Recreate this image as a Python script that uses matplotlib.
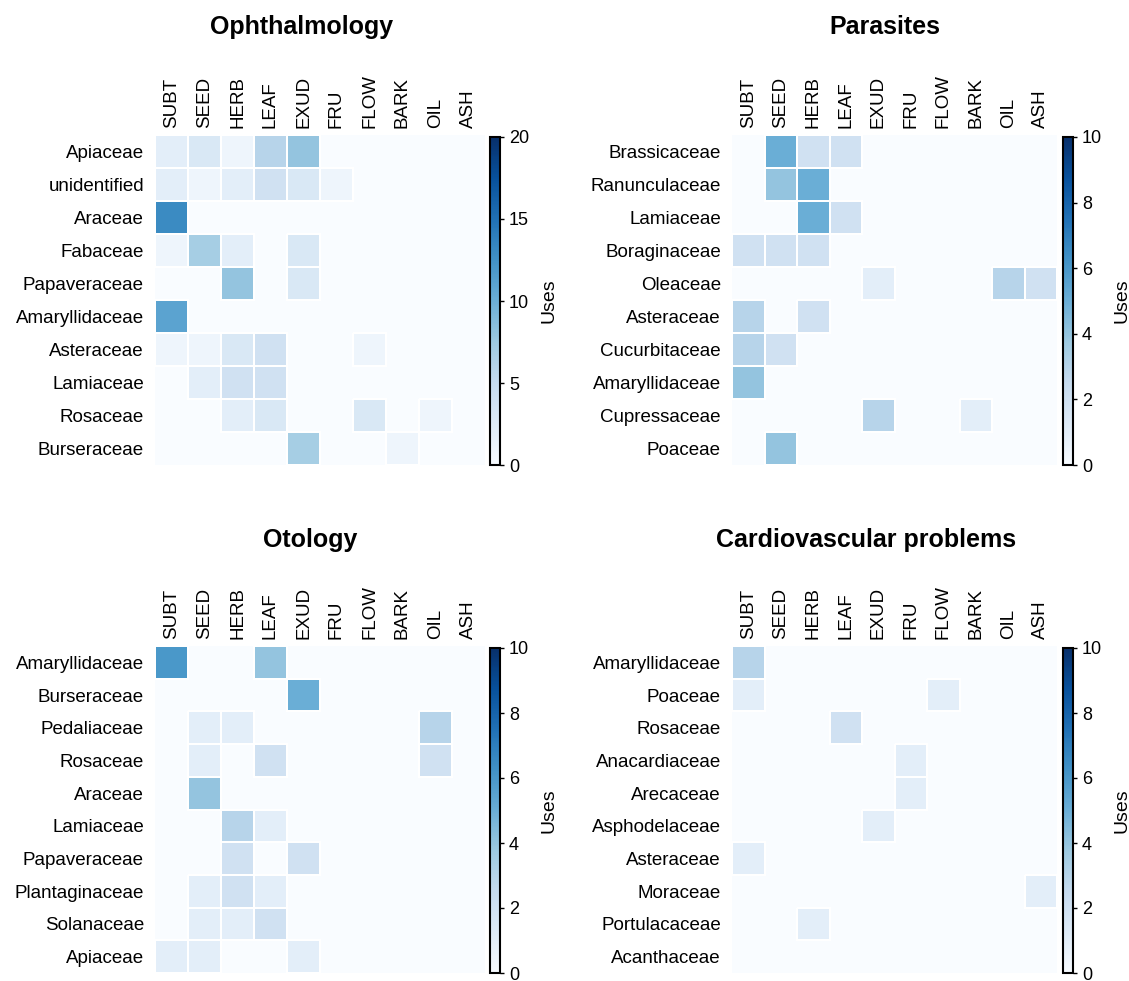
import numpy as np
import matplotlib
matplotlib.use("Agg")
import matplotlib.pyplot as plt

plt.rcParams['font.family'] = ['Liberation Sans', 'DejaVu Sans']

# plant parts used, same order for every panel
parts = ["SUBT", "SEED", "HERB", "LEAF", "EXUD", "FRU", "FLOW", "BARK", "OIL", "ASH"]

# Ophthalmology: uses per family and plant part
oph_families = ["Apiaceae", "unidentified", "Araceae", "Fabaceae", "Papaveraceae",
                "Amaryllidaceae", "Asteraceae", "Lamiaceae", "Rosaceae", "Burseraceae"]
oph_uses = [
    [2, 3, 1, 6, 8, 0, 0, 0, 0, 0],
    [2, 1, 2, 4, 3, 1, 0, 0, 0, 0],
    [13, 0, 0, 0, 0, 0, 0, 0, 0, 0],
    [1, 7, 2, 0, 3, 0, 0, 0, 0, 0],
    [0, 0, 8, 0, 3, 0, 0, 0, 0, 0],
    [11, 0, 0, 0, 0, 0, 0, 0, 0, 0],
    [1, 1, 3, 4, 0, 0, 1, 0, 0, 0],
    [0, 2, 4, 4, 0, 0, 0, 0, 0, 0],
    [0, 0, 2, 3, 0, 0, 3, 0, 1, 0],
    [0, 0, 0, 0, 7, 0, 0, 1, 0, 0],
]

# Parasites
par_families = ["Brassicaceae", "Ranunculaceae", "Lamiaceae", "Boraginaceae", "Oleaceae",
                "Asteraceae", "Cucurbitaceae", "Amaryllidaceae", "Cupressaceae", "Poaceae"]
par_uses = [
    [0, 5, 2, 2, 0, 0, 0, 0, 0, 0],
    [0, 4, 5, 0, 0, 0, 0, 0, 0, 0],
    [0, 0, 5, 2, 0, 0, 0, 0, 0, 0],
    [2, 2, 2, 0, 0, 0, 0, 0, 0, 0],
    [0, 0, 0, 0, 1, 0, 0, 0, 3, 2],
    [3, 0, 2, 0, 0, 0, 0, 0, 0, 0],
    [3, 2, 0, 0, 0, 0, 0, 0, 0, 0],
    [4, 0, 0, 0, 0, 0, 0, 0, 0, 0],
    [0, 0, 0, 0, 3, 0, 0, 1, 0, 0],
    [0, 4, 0, 0, 0, 0, 0, 0, 0, 0],
]

# Otology
oto_families = ["Amaryllidaceae", "Burseraceae", "Pedaliaceae", "Rosaceae", "Araceae",
                "Lamiaceae", "Papaveraceae", "Plantaginaceae", "Solanaceae", "Apiaceae"]
oto_uses = [
    [6, 0, 0, 4, 0, 0, 0, 0, 0, 0],
    [0, 0, 0, 0, 5, 0, 0, 0, 0, 0],
    [0, 1, 1, 0, 0, 0, 0, 0, 3, 0],
    [0, 1, 0, 2, 0, 0, 0, 0, 2, 0],
    [0, 4, 0, 0, 0, 0, 0, 0, 0, 0],
    [0, 0, 3, 1, 0, 0, 0, 0, 0, 0],
    [0, 0, 2, 0, 2, 0, 0, 0, 0, 0],
    [0, 1, 2, 1, 0, 0, 0, 0, 0, 0],
    [0, 1, 1, 2, 0, 0, 0, 0, 0, 0],
    [1, 1, 0, 0, 1, 0, 0, 0, 0, 0],
]

# Cardiovascular problems
car_families = ["Amaryllidaceae", "Poaceae", "Rosaceae", "Anacardiaceae", "Arecaceae",
                "Asphodelaceae", "Asteraceae", "Moraceae", "Portulacaceae", "Acanthaceae"]
car_uses = [
    [3, 0, 0, 0, 0, 0, 0, 0, 0, 0],
    [1, 0, 0, 0, 0, 0, 1, 0, 0, 0],
    [0, 0, 0, 2, 0, 0, 0, 0, 0, 0],
    [0, 0, 0, 0, 0, 1, 0, 0, 0, 0],
    [0, 0, 0, 0, 0, 1, 0, 0, 0, 0],
    [0, 0, 0, 0, 1, 0, 0, 0, 0, 0],
    [1, 0, 0, 0, 0, 0, 0, 0, 0, 0],
    [0, 0, 0, 0, 0, 0, 0, 0, 0, 1],
    [0, 0, 1, 0, 0, 0, 0, 0, 0, 0],
    [0, 0, 0, 0, 0, 0, 0, 0, 0, 0],
]

W, H = 1129, 981
fig = plt.figure(figsize=(W / 100, H / 100), dpi=100)
empty_colour = "#f9fcff"


def px_axes(x0, y0, x1, y1):
    # axes from pixel box (top-left origin)
    return fig.add_axes([x0 / W, 1 - y1 / H, (x1 - x0) / W, (y1 - y0) / H])


def heatmap(box, cbox, families, uses, vmax, ticks, title, title_xy):
    ax = px_axes(*box)
    data = np.array(uses, dtype=float)
    ax.set_facecolor(empty_colour)
    mesh = ax.pcolormesh(np.ma.masked_equal(data, 0), cmap="Blues", vmin=0, vmax=vmax,
                         linewidth=1.2)
    # white borders only around cells that have uses
    edges = [(1, 1, 1, 1) if v > 0 else (1, 1, 1, 0) for v in data.ravel()]
    mesh.set_edgecolor(edges)
    ax.set_xlim(0, len(parts))
    ax.set_ylim(len(families), 0)
    ax.set_xticks(np.arange(len(parts)) + 0.5)
    ax.set_xticklabels(parts, rotation=90, fontsize=13.5)
    ax.set_yticks(np.arange(len(families)) + 0.5)
    ax.set_yticklabels(families, fontsize=13.5)
    ax.xaxis.tick_top()
    ax.tick_params(length=0, pad=8)
    ax.tick_params(axis="x", pad=5)
    for s in ax.spines.values():
        s.set_visible(False)

    cax = px_axes(*cbox)
    cb = fig.colorbar(mesh, cax=cax, ticks=ticks)
    cb.outline.set_linewidth(1.5)
    cb.ax.tick_params(labelsize=13, length=3, width=1)
    cb.set_label("Uses", fontsize=14, labelpad=8)

    fig.text(title_xy[0] / W, 1 - title_xy[1] / H, title, fontsize=18,
             fontweight="bold", ha="center", va="center")


heatmap((155, 135, 485, 465), (490, 137, 500, 465), oph_families, oph_uses,
        20, [0, 5, 10, 15, 20], "Ophthalmology", (302, 27))
heatmap((732, 135, 1057, 465), (1063, 137, 1073, 465), par_families, par_uses,
        10, [0, 2, 4, 6, 8, 10], "Parasites", (885, 27))
heatmap((155, 646, 485, 973), (490, 648, 500, 973), oto_families, oto_uses,
        10, [0, 2, 4, 6, 8, 10], "Otology", (310, 540))
heatmap((732, 646, 1057, 973), (1063, 648, 1073, 973), car_families, car_uses,
        10, [0, 2, 4, 6, 8, 10], "Cardiovascular problems", (866, 540))

fig.savefig("out.png", dpi=100)
